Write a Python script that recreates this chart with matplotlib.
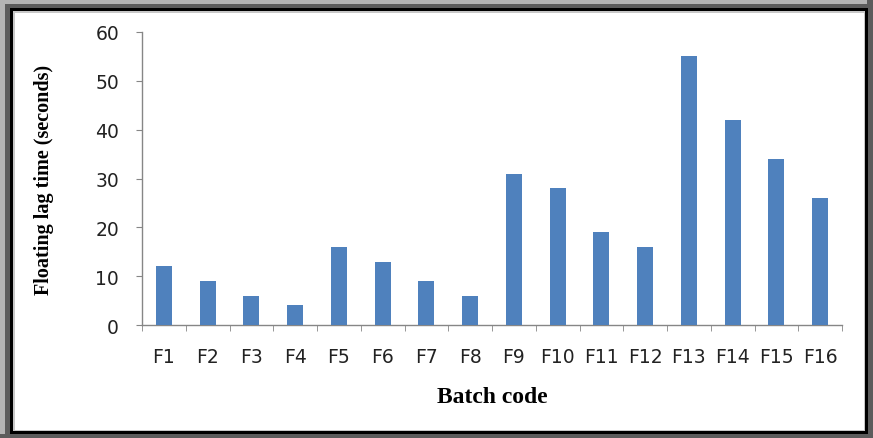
import matplotlib.pyplot as plt
from matplotlib.patches import Rectangle
import numpy as np

batches = ['F1', 'F2', 'F3', 'F4', 'F5', 'F6', 'F7', 'F8',
           'F9', 'F10', 'F11', 'F12', 'F13', 'F14', 'F15', 'F16']
lag_time = [12, 9, 6, 4, 16, 13, 9, 6, 31, 28, 19, 16, 55, 42, 34, 26]

W, H = 873, 439
fig = plt.figure(figsize=(W / 100, H / 100), dpi=100)


def px_rect(x0, y0, x1, y1, color, z):
    # rectangle given in pixel coords measured from top-left
    r = Rectangle((x0 / W, 1 - y1 / H), (x1 - x0) / W, (y1 - y0) / H,
                  transform=fig.transFigure, facecolor=color,
                  edgecolor='none', zorder=z)
    fig.add_artist(r)


# picture frame with shadow
px_rect(0, 0, W, H, '#5c5c5c', -10)
px_rect(0, 0, W - 6, 5, '#b4b4b4', -9)
px_rect(0, 0, 5, H - 4, '#b4b4b4', -9)
px_rect(10, 9, 868, 435, '#000000', -8)
px_rect(13, 12, 865, 432, '#c8c8c8', -7)
px_rect(15, 14, 864, 431, '#ffffff', -6)

ax = fig.add_axes([142 / W, 1 - 326 / H, (842 - 142) / W, (326 - 33) / H])
ax.set_facecolor('none')

x = np.arange(len(batches))
ax.bar(x, lag_time, width=0.37, color='#4f81bd', zorder=3)

ax.set_xlim(-0.5, len(batches) - 0.5)
ax.set_ylim(0, 60)
ax.set_yticks(range(0, 61, 10))

ax.set_xticks(x)
ax.set_xticklabels(batches)
ax.set_xticks(np.arange(-0.5, len(batches)), minor=True)
ax.tick_params(axis='x', which='major', length=0, pad=16, labelsize=13.5,
               labelcolor='#222222')
ax.tick_params(axis='x', which='minor', length=4.5, color='#868686')
ax.tick_params(axis='y', length=4.5, color='#868686', pad=12,
               labelsize=13.5, labelcolor='#222222')

for s in ['top', 'right']:
    ax.spines[s].set_visible(False)
for s in ['left', 'bottom']:
    ax.spines[s].set_color('#868686')
    ax.spines[s].set_linewidth(1.0)

ax.set_xlabel('Batch code', family='Liberation Serif', fontweight='bold',
              fontsize=17, labelpad=14)
ax.set_ylabel('Floating lag time (seconds)', family='Liberation Serif',
              fontweight='bold', fontsize=14.5, labelpad=30)

fig.savefig('out.png', dpi=100)
